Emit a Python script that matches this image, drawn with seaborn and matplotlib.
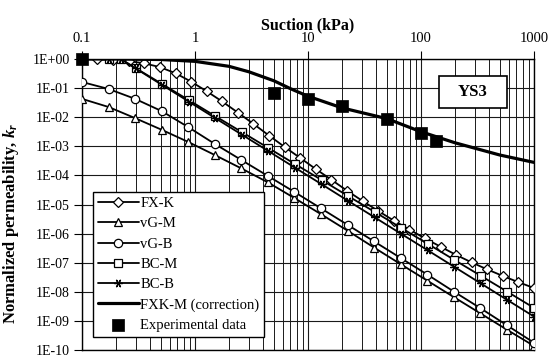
import numpy as np
import matplotlib
matplotlib.use("Agg")
import matplotlib.pyplot as plt
import seaborn as sns
from matplotlib.ticker import FixedLocator, FuncFormatter, NullLocator, LogLocator, NullFormatter
from matplotlib.patches import Rectangle

# ---- data: suction (kPa) and normalized permeability k_r ----
fxk_s = [0.1, 0.137, 0.189, 0.259, 0.356, 0.490, 0.673, 0.925, 1.27, 1.74, 2.39,
         3.29, 4.52, 6.21, 8.53, 11.7, 16.1, 22.1, 30.4, 41.8, 57.4, 78.9, 108,
         149, 204, 281, 385, 530, 728, 1000]
fxk_k = [1.0, 0.977, 0.933, 0.851, 0.708, 0.525, 0.324, 0.166, 0.0776, 0.0347,
         0.0145, 5.9e-3, 2.34e-3, 9.5e-4, 3.98e-4, 1.66e-4, 7.1e-5, 3.0e-5,
         1.32e-5, 6.0e-6, 2.8e-6, 1.38e-6, 6.9e-7, 3.55e-7, 1.86e-7, 1.02e-7,
         5.9e-8, 3.5e-8, 2.14e-8, 1.35e-8]

vg_s = [0.1, 0.172, 0.295, 0.507, 0.871, 1.50, 2.57, 4.42, 7.59, 13.0, 22.4,
        38.5, 66.1, 114, 195, 335, 575, 1000]
vgm_k = [0.0427, 0.0224, 9.3e-3, 3.7e-3, 1.41e-3, 5.0e-4, 1.74e-4, 5.75e-5,
         1.66e-5, 4.68e-6, 1.26e-6, 3.3e-7, 8.9e-8, 2.4e-8, 6.6e-9, 1.82e-9,
         5.0e-10, 1.38e-10]
vgb_k = [0.162, 0.0933, 0.0427, 0.0162, 4.57e-3, 1.2e-3, 3.39e-4, 9.55e-5,
         2.69e-5, 7.41e-6, 2.0e-6, 5.37e-7, 1.45e-7, 3.89e-8, 1.02e-8, 2.75e-9,
         7.1e-10, 1.78e-10]

bc_s = [0.1, 0.174, 0.22, 0.299, 0.513, 0.881, 1.51, 2.60, 4.47, 7.67, 13.2,
        22.6, 38.9, 66.8, 115, 197, 339, 582, 1000]
bcm_k = [1.0, 1.0, 1.0, 0.484, 0.137, 0.0386, 0.0109, 3.08e-3, 8.7e-4, 2.46e-4,
         6.95e-5, 1.96e-5, 5.55e-6, 1.57e-6, 4.43e-7, 1.25e-7, 3.53e-8, 1.0e-8,
         2.8e-9]
bcb_k = [1.0, 1.0, 1.0, 0.472, 0.127, 0.0344, 9.3e-3, 2.51e-3, 6.8e-4, 1.84e-4,
         4.97e-5, 1.34e-5, 3.62e-6, 9.8e-7, 2.65e-7, 7.2e-8, 1.93e-8, 5.2e-9,
         1.41e-9]

corr_s = [0.1, 0.2, 0.5, 1, 2, 3, 5, 7, 10, 20, 50, 100, 200, 500, 1000]
corr_k = [1.0, 0.995, 0.96, 0.83, 0.56, 0.363, 0.178, 0.0955, 0.0525, 0.0209,
          8.9e-3, 3.16e-3, 1.32e-3, 5.0e-4, 2.8e-4]

exp_s = [0.1, 5, 10, 20, 50, 100, 135]
exp_k = [1.0, 0.068, 0.043, 0.024, 0.0087, 0.0029, 0.0015]

x_ticks = [0.1, 1, 10, 100, 1000]
x_tick_labels = ["0.1", "1", "10", "100", "1000"]
y_ticks = [10.0 ** e for e in range(-10, 1)]

# ---- style ----
sns.set_theme(style="white")
plt.rcParams["font.family"] = ["Liberation Serif", "DejaVu Serif"]
plt.rcParams["mathtext.fontset"] = "custom"
plt.rcParams["mathtext.it"] = "Liberation Serif:italic:bold"
plt.rcParams["mathtext.rm"] = "Liberation Serif:bold"

fig = plt.figure(figsize=(5.5, 3.56), dpi=100)
ax = fig.add_axes([82 / 550, 1 - 350 / 356, 452 / 550, 291 / 356])
ax.set_xscale("log")
ax.set_yscale("log")

line_kw = dict(color="black", lw=1.3, markerfacecolor="white",
               markeredgecolor="black", markeredgewidth=0.9,
               sort=False, estimator=None, zorder=3)

sns.lineplot(x=fxk_s, y=fxk_k, ax=ax, marker="D", markersize=5.5, label="FX-K", **line_kw)
sns.lineplot(x=vg_s, y=vgm_k, ax=ax, marker="^", markersize=6, label="vG-M", **line_kw)
sns.lineplot(x=vg_s, y=vgb_k, ax=ax, marker="o", markersize=6, label="vG-B", **line_kw)
sns.lineplot(x=bc_s, y=bcm_k, ax=ax, marker="s", markersize=5.5, label="BC-M", **line_kw)
sns.lineplot(x=bc_s, y=bcb_k, ax=ax, marker=(6, 2, 90), markersize=6, label="BC-B", **line_kw)
sns.lineplot(x=corr_s, y=corr_k, ax=ax, color="black", lw=2.3, sort=False,
             estimator=None, label="FXK-M (correction)", zorder=4)
sns.scatterplot(x=exp_s, y=exp_k, ax=ax, marker="s", s=75, color="black",
                edgecolor="black", linewidth=0.5, label="Experimental data",
                zorder=5, clip_on=False)

ax.set_xlim(0.1, 1000)
ax.set_ylim(1e-10, 1)

# axes, ticks and grid
ax.xaxis.tick_top()
ax.xaxis.set_label_position("top")
ax.xaxis.set_major_locator(FixedLocator(x_ticks))
ax.xaxis.set_major_formatter(FuncFormatter(lambda v, p: x_tick_labels[x_ticks.index(v)] if v in x_ticks else ""))
ax.xaxis.set_minor_locator(LogLocator(base=10, subs=np.arange(2, 10), numticks=20))
ax.xaxis.set_minor_formatter(NullFormatter())
ax.yaxis.set_major_locator(FixedLocator(y_ticks))
ax.yaxis.set_major_formatter(FuncFormatter(lambda v, p: "1E{:+03d}".format(int(round(np.log10(v))))))
ax.yaxis.set_minor_locator(NullLocator())

ax.tick_params(axis="x", which="major", top=True, bottom=False, direction="out",
               length=6, width=0.8, color="black", pad=4, labelsize=10.5,
               labelcolor="black")
ax.tick_params(axis="x", which="minor", top=False, bottom=False)
ax.tick_params(axis="y", which="major", left=True, direction="out", length=6,
               width=0.8, color="black", pad=3, labelsize=10, labelcolor="black")

ax.grid(True, which="major", axis="both", color="#1a1a1a", lw=0.8, zorder=0)
ax.grid(True, which="minor", axis="x", color="#1a1a1a", lw=0.7, zorder=0)
ax.set_axisbelow(True)
for sp in ax.spines.values():
    sp.set_visible(True)
    sp.set_color("black")
    sp.set_linewidth(1.0)

ax.set_xlabel("Suction (kPa)", fontsize=11.5, fontweight="bold", color="black", labelpad=2)
ax.set_ylabel("Normalized permeability, $k_r$", fontsize=12, fontweight="bold", color="black")
ax.yaxis.set_label_coords(-0.136, 0.433)

leg = ax.legend(loc="lower left", bbox_to_anchor=(0.024, 0.045), borderaxespad=0,
                frameon=True, fancybox=False, edgecolor="black", framealpha=1,
                fontsize=10.5, handlelength=2.8, handletextpad=0.1,
                labelspacing=0.48, borderpad=0.35)
leg.get_frame().set_linewidth(1.0)
for t in leg.get_texts():
    t.set_color("black")

# sample label box
fig.patches.append(Rectangle((439 / 550, 1 - 108 / 356), 68 / 550, 32 / 356,
                             transform=fig.transFigure, facecolor="white",
                             edgecolor="black", lw=1.2, zorder=6))
fig.text(473 / 550, 1 - 92 / 356, "YS3", ha="center", va="center",
         fontsize=12, fontweight="bold", color="black", zorder=7)

fig.savefig("out.png", dpi=100, facecolor="white")
